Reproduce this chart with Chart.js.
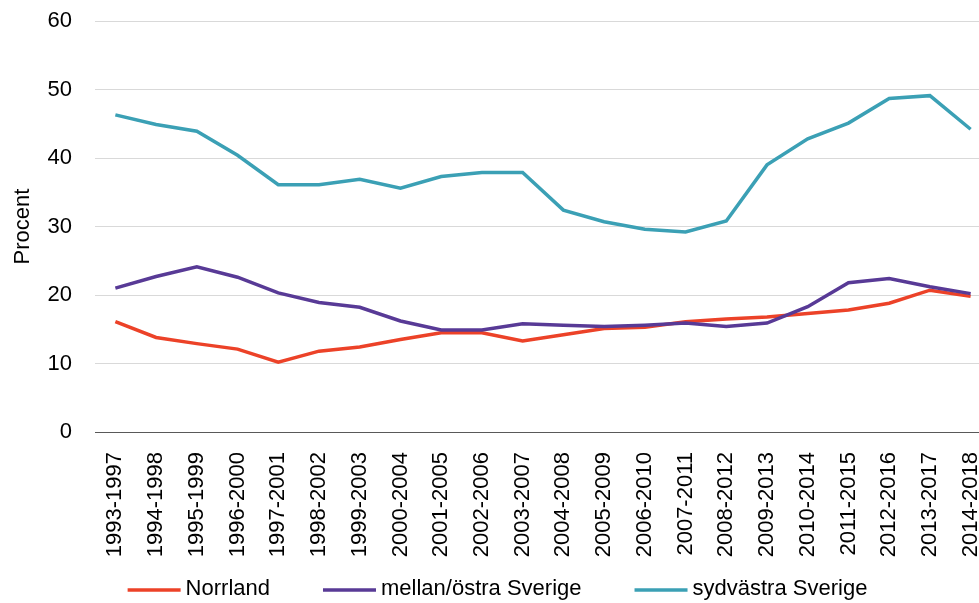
<!DOCTYPE html>
<html>
<head>
<meta charset="utf-8">
<script src="https://cdn.jsdelivr.net/npm/chart.js@4.4.1/dist/chart.umd.min.js"></script>
<style>
  html, body { margin: 0; padding: 0; background: #ffffff; overflow: hidden; }
  #wrap { position: relative; width: 991px; height: 603px; }
</style>
</head>
<body>
<div id="wrap"><canvas id="c"></canvas></div>
<script>
// Five-year periods on the category axis
const periods = [
  '1993-1997', '1994-1998', '1995-1999', '1996-2000', '1997-2001', '1998-2002',
  '1999-2003', '2000-2004', '2001-2005', '2002-2006', '2003-2007', '2004-2008',
  '2005-2009', '2006-2010', '2007-2011', '2008-2012', '2009-2013', '2010-2014',
  '2011-2015', '2012-2016', '2013-2017', '2014-2018'
];

// Share in percent per region
const norrland = [16.1, 13.8, 12.9, 12.1, 10.2, 11.8, 12.4, 13.5, 14.5, 14.5, 13.3,
                  14.2, 15.1, 15.3, 16.1, 16.5, 16.8, 17.3, 17.8, 18.8, 20.7, 19.8];
const mellanOstra = [21.0, 22.7, 24.1, 22.6, 20.3, 18.9, 18.2, 16.2, 14.9, 14.9, 15.8,
                     15.6, 15.4, 15.6, 15.9, 15.4, 15.9, 18.3, 21.8, 22.4, 21.2, 20.2];
const sydvastra = [46.3, 44.9, 43.9, 40.4, 36.1, 36.1, 36.9, 35.6, 37.3, 37.9, 37.9,
                   32.4, 30.7, 29.6, 29.2, 30.8, 39.0, 42.8, 45.1, 48.7, 49.1, 44.2];

const seriesNames = ['Norrland', 'mellan/östra Sverige', 'sydvästra Sverige'];
const yMin = 0, yMax = 60, yStep = 10;
const yTitle = 'Procent';

const colors = ['#EC4228', '#583A96', '#3BA0B5'];

Chart.defaults.font.family = '"Liberation Sans", Arial, sans-serif';
Chart.defaults.font.size = 22;
Chart.defaults.color = '#000000';

// Single-row legend with a short line sample in front of each series name
const lineLegend = {
  id: 'lineLegend',
  afterDraw(chart, args, opts) {
    const ctx = chart.ctx;
    const font = Chart.helpers.toFont(opts.font);
    ctx.save();
    ctx.font = font.string;
    const items = chart.data.datasets.map(ds => ({ ds, w: ctx.measureText(ds.label).width }));
    const total = items.reduce((s, it) => s + opts.lineLength + opts.textGap + it.w, 0)
                + opts.itemGap * (items.length - 1);
    let x = (chart.width - total) / 2 + opts.shiftX;
    const y = chart.height - opts.fromBottom;
    ctx.textBaseline = 'middle';
    ctx.textAlign = 'left';
    items.forEach(({ ds, w }) => {
      ctx.strokeStyle = ds.borderColor;
      ctx.lineWidth = opts.lineWidth;
      ctx.lineCap = 'butt';
      ctx.beginPath();
      ctx.moveTo(x, y + 1);
      ctx.lineTo(x + opts.lineLength, y + 1);
      ctx.stroke();
      ctx.fillStyle = opts.color;
      ctx.fillText(ds.label, x + opts.lineLength + opts.textGap, y);
      x += opts.lineLength + opts.textGap + w + opts.itemGap;
    });
    ctx.restore();
  }
};

function lineSet(label, data, color, order) {
  return {
    label, data, order,
    borderColor: color,
    backgroundColor: color,
    borderWidth: 3.5,
    pointRadius: 0,
    pointHoverRadius: 0,
    tension: 0,
    fill: false
  };
}

new Chart(document.getElementById('c'), {
  type: 'line',
  data: {
    labels: periods,
    datasets: [
      lineSet(seriesNames[0], norrland, colors[0], 3),
      lineSet(seriesNames[1], mellanOstra, colors[1], 2),
      lineSet(seriesNames[2], sydvastra, colors[2], 1)
    ]
  },
  plugins: [lineLegend],
  options: {
    responsive: true,
    maintainAspectRatio: false,
    animation: false,
    events: [],
    layout: { padding: { left: 0, top: 21, right: 0, bottom: 45 } },
    plugins: {
      tooltip: { enabled: false },
      legend: { display: false },
      lineLegend: {
        font: { size: 22 },
        color: '#000000',
        lineLength: 53,
        lineWidth: 3.5,
        textGap: 5,
        itemGap: 53,
        shiftX: 2,
        fromBottom: 14
      }
    },
    scales: {
      x: {
        offset: true,
        grid: { display: false, drawTicks: false },
        border: { display: true, color: '#595959', width: 1 },
        ticks: {
          autoSkip: false,
          minRotation: 90,
          maxRotation: 90,
          padding: 20,
          color: '#000000',
          font: { size: 22 }
        },
        afterFit(scale) {
          scale.height = 126;
          scale.paddingLeft = 0;
          scale.paddingRight = 0;
        }
      },
      y: {
        min: yMin,
        max: yMax,
        grid: {
          drawTicks: false,
          lineWidth: 1,
          color: ctx => (ctx.tick && ctx.tick.value === 0) ? '#595959' : '#D9D9D9'
        },
        border: { display: false },
        ticks: {
          stepSize: yStep,
          padding: 23,
          color: '#000000',
          font: { size: 22 }
        },
        title: {
          display: true,
          text: yTitle,
          color: '#000000',
          font: { size: 22 },
          padding: { top: 10, bottom: 0 }
        },
        afterFit(scale) {
          scale.width = 95;
          scale.paddingTop = 0;
          scale.paddingBottom = 0;
        }
      }
    }
  }
});
</script>
</body>
</html>
